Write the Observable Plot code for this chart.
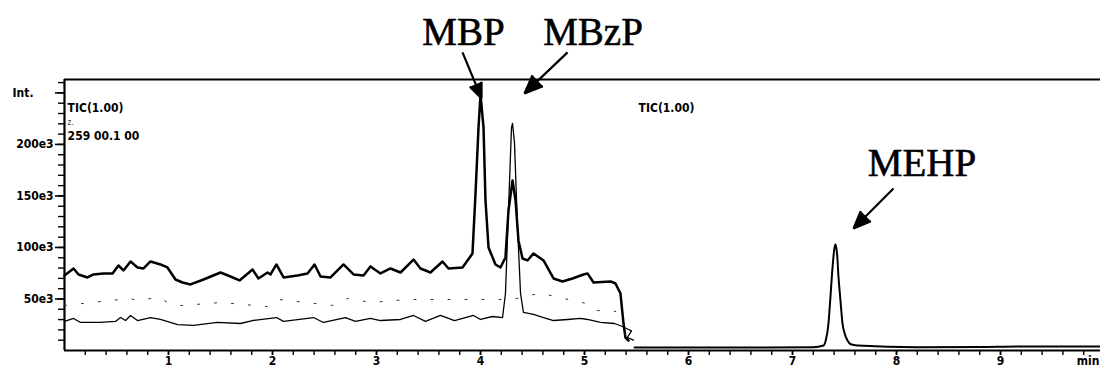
<!DOCTYPE html>
<html><head><meta charset="utf-8">
<script src="https://cdn.jsdelivr.net/npm/d3@7"></script>
<script src="https://cdn.jsdelivr.net/npm/@observablehq/plot@0.6"></script>
<style>html,body{margin:0;padding:0;background:#fff;} svg{display:block}</style>
</head><body><div id="chart"></div>
<script>
// Retention time (min) and intensity (x1000 counts)
const timeA = [0.000,0.087,0.135,0.221,0.279,0.375,0.462,0.519,0.567,0.635,0.702,0.760,0.827,0.923,0.990,1.067,1.135,1.212,1.337,1.500,1.596,1.683,1.808,1.865,1.952,1.981,2.038,2.106,2.240,2.337,2.404,2.462,2.558,2.683,2.779,2.875,2.942,3.038,3.135,3.231,3.356,3.423,3.519,3.635,3.692,3.827,3.923,3.952,3.981,4.000,4.029,4.048,4.077,4.144,4.192,4.240,4.269,4.308,4.337,4.365,4.404,4.452,4.510,4.606,4.702,4.788,4.885,4.990,5.029,5.087,5.250,5.298,5.346,5.375,5.394,5.423];
const intA  = [72.8,79.6,73.8,70.9,73.8,74.8,74.8,82.5,77.7,86.4,80.6,79.6,86.4,83.5,80.6,68.9,66.0,64.1,68.9,75.7,71.8,68.0,78.6,69.9,75.7,73.8,83.5,70.9,72.8,74.8,83.5,71.8,70.9,83.5,73.8,72.8,81.6,74.8,79.6,75.7,88.3,79.6,75.7,86.4,79.6,80.6,94.2,152.4,216.5,248.0,216.5,145.6,100.0,83.5,80.6,90.3,135.9,165.0,145.6,106.8,89.3,87.4,94.2,87.4,69.9,67.0,69.9,73.8,74.8,66.0,67.0,65.0,55.3,26.2,12.6,9.7];

const timeB = [0.00,0.30,0.63,0.70,0.90,1.05,1.14,1.50,1.95,2.06,2.58,2.72,2.95,3.30,3.78,4.20,4.35,4.45,4.59,5.00,5.12,5.30];
const intB  = [43.7,47.0,50.5,48.5,51.5,43.7,43.7,46.6,42.7,49.5,43.7,50.5,46.6,49.5,49.5,49.5,50.5,53.4,55.3,46.0,38.8,38.0];

const timeC = [0.000,0.087,0.154,0.346,0.490,0.538,0.587,0.635,0.702,0.827,0.923,1.087,1.240,1.471,1.692,1.808,2.038,2.106,2.394,2.490,2.702,2.798,2.942,3.038,3.231,3.356,3.471,3.615,3.750,3.933,4.000,4.115,4.212,4.240,4.269,4.298,4.308,4.327,4.356,4.385,4.413,4.510,4.606,4.702,4.837,4.962,5.029,5.154,5.288,5.365,5.423,5.452,5.413,5.471];
const intC  = [28.2,31.1,27.2,27.2,28.2,32.0,29.1,34.0,29.1,32.0,30.1,25.2,24.3,27.2,26.2,29.1,32.0,28.2,32.0,27.2,32.0,28.2,31.1,29.1,30.1,34.0,28.2,34.0,29.1,34.0,30.1,33.0,32.0,55.3,135.9,216.5,220.4,201.0,119.4,55.3,36.9,35.0,32.0,29.1,30.1,31.1,30.1,27.2,26.2,23.3,20.4,19.0,12.6,10.0];

const timeD = [5.481,6.50,7.20,7.298,7.32,7.346,7.36,7.385,7.40,7.413,7.43,7.442,7.46,7.481,7.50,7.529,7.56,7.625,8.20,8.80,9.20,9.60,10.0];
const intD  = [2.9,2.9,3.2,4.9,10.0,26.2,45.0,80.6,97.0,103.0,92.0,71.8,50.0,26.2,17.0,9.7,6.0,4.9,3.2,3.4,3.9,3.9,3.9];

// Axis ticks
const yTop = 263;
const yTickValues = [50, 100, 150, 200];
const yTickLabels = ["50e3", "100e3", "150e3", "200e3"];
const yUnitValue = 250;
const yUnit = "Int.";
const xTickValues = [1, 2, 3, 4, 5, 6, 7, 8, 9];
const xTickLabels = ["1", "2", "3", "4", "5", "6", "7", "8", "9"];
const xUnit = "min";

// Instrument notes
const noteText = ["TIC(1.00)", "z.", "259 00.1 00", "TIC(1.00)"];
const noteT = [0.03, 0.03, 0.03, 5.52];
const noteV = [235.4, 221.5, 208.3, 235.4];

// Peak labels and arrows
const peakName = ["MBP", "MBzP", "MEHP"];
const peakLabelT = [3.837, 5.082, 8.245];
const peakLabelV = [308.3, 308.3, 181.1];
const arrowT1 = [3.827, 4.837, 7.971];
const arrowV1 = [289.3, 289.3, 157.3];
const arrowT2 = [4.010, 4.423, 7.587];
const arrowV2 = [244.7, 249.5, 118.4];

const rows = (t, v) => t.map((d, i) => ({t: d, v: v[i]}));
const notes = noteText.map((s, i) => ({s, t: noteT[i], v: noteV[i]}));
const peaks = peakName.map((s, i) => ({s, t: peakLabelT[i], v: peakLabelV[i]}));
const arrows = peakName.map((s, i) => ({x1: arrowT1[i], y1: arrowV1[i], x2: arrowT2[i], y2: arrowV2[i]}));
const minorY = d3.range(10, yTop, 10);
const minorX = d3.range(1, 50).map(i => i / 5);

const chart = Plot.plot({
  width: 1100, height: 367,
  marginTop: 79, marginBottom: 17, marginLeft: 64, marginRight: 0,
  x: {domain: [0, 10], range: [64, 1104], label: null},
  y: {domain: [0, yTop], range: [350, 79], label: null},
  style: {background: "#fff", color: "#000", fontFamily: "'DejaVu Sans Condensed', 'DejaVu Sans', sans-serif", overflow: "hidden"},
  marks: [
    Plot.axisY({ticks: minorY, tickSize: 6, tickFormat: () => "", strokeWidth: 1.4}),
    Plot.axisY({ticks: yTickValues, tickSize: 9, tickPadding: 2, strokeWidth: 1.6,
      tickFormat: d => yTickLabels[yTickValues.indexOf(d)], fontSize: 12, fontWeight: "bold"}),
    Plot.axisY({ticks: [yUnitValue], tickSize: 9, tickPadding: 22, strokeWidth: 1.6,
      tickFormat: () => yUnit, fontSize: 12, fontWeight: "bold"}),
    Plot.axisX({ticks: minorX, tickSize: 5, tickFormat: () => "", strokeWidth: 1.4}),
    Plot.axisX({ticks: xTickValues, tickSize: 5, tickPadding: 1, strokeWidth: 1.6,
      tickFormat: d => xTickLabels[xTickValues.indexOf(d)], fontSize: 12, fontWeight: "bold"}),
    Plot.text([xUnit], {x: 10, y: 0, text: d => d, textAnchor: "end", lineAnchor: "top", dx: -5, dy: 6, fontSize: 12, fontWeight: "bold"}),
    Plot.ruleY([0, yTop], {strokeWidth: 2}),
    Plot.ruleX([0], {strokeWidth: 2.2}),
    Plot.line(rows(timeB, intB), {x: "t", y: "v", stroke: "#333", strokeWidth: 1, strokeDasharray: "2 15"}),
    Plot.line(rows(timeC, intC), {x: "t", y: "v", strokeWidth: 1.3, strokeLinejoin: "round"}),
    Plot.line(rows(timeA, intA), {x: "t", y: "v", strokeWidth: 2.5, strokeLinejoin: "round"}),
    Plot.line(rows(timeD, intD), {x: "t", y: "v", strokeWidth: 2, curve: "monotone-x"}),
    Plot.text(notes.slice(1, 2), {x: "t", y: "v", text: "s", textAnchor: "start", fontSize: 8, fill: "#444"}),
    Plot.text(notes.filter((d, i) => i !== 1), {x: "t", y: "v", text: "s", textAnchor: "start", fontSize: 12, fontWeight: "bold", letterSpacing: "0.4px"}),
    Plot.text(peaks, {x: "t", y: "v", text: "s", fontFamily: "'Liberation Serif', 'Times New Roman', serif", fontSize: 39, stroke: "#000", strokeWidth: 0.6, fill: "#000"}),
    Plot.arrow(arrows, {x1: "x1", y1: "y1", x2: "x2", y2: "y2", stroke: "#000", strokeWidth: 2.2, headLength: 15, headAngle: 45, fill: "#000", strokeLinecap: "butt"})
  ]
});
document.getElementById("chart").append(chart);
</script>
</body></html>
